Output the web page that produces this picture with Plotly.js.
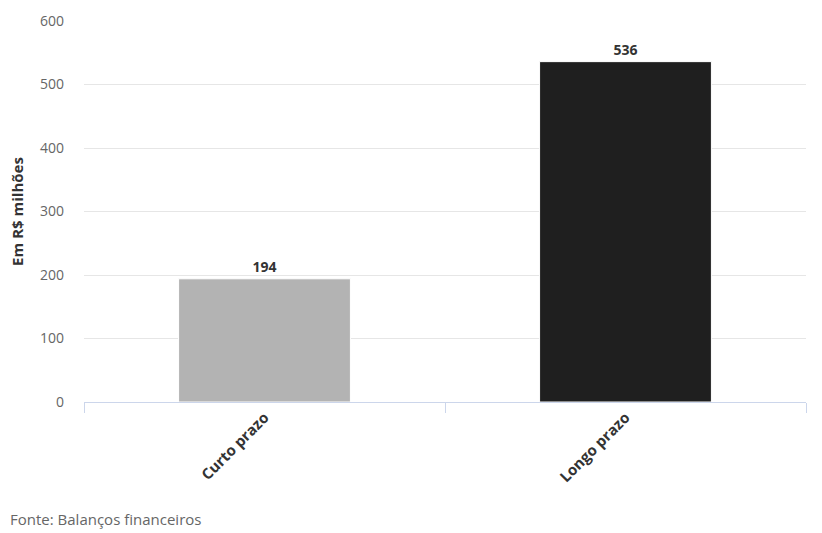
<!DOCTYPE html>
<html><head><meta charset="utf-8">
<script src="https://cdn.plot.ly/plotly-3.0.1.min.js"></script>
<style>body{margin:0;padding:0;background:#fff}#chart{width:822px;height:533px}</style>
</head><body><div id="chart"></div>
<script>
const categories = ["Curto prazo", "Longo prazo"];
const values = [194, 536];
const barColors = ["#b3b3b3", "#1f1f1f"];
const yTicks = [0, 100, 200, 300, 400, 500, 600];

const trace = {
  type: "bar",
  x: categories,
  y: values,
  marker: {color: barColors, line: {color: "#ffffff", width: 1}},
  text: values.map(v => "<b>" + v + "</b>"),
  textposition: "outside",
  textfont: {family: "Open Sans", size: 14, color: "#333333"},
  cliponaxis: false,
  hoverinfo: "none"
};

const layout = {
  width: 822, height: 533,
  margin: {l: 84, r: 16, t: 21, b: 131},
  paper_bgcolor: "#ffffff", plot_bgcolor: "#ffffff",
  font: {family: "Open Sans", color: "#666666"},
  bargap: 0.524,
  showlegend: false,
  xaxis: {
    type: "category",
    tickangle: -45,
    tickfont: {family: "Open Sans", size: 15, color: "#333333", weight: "bold"},
    showline: true, linecolor: "#ccd6eb", linewidth: 1,
    ticks: "outside", tickson: "boundaries", ticklen: 10, tickcolor: "#ccd6eb",
    showgrid: false, zeroline: false, fixedrange: true
  },
  yaxis: {
    range: [0, 600],
    tickvals: yTicks,
    ticktext: yTicks.map(String),
    tickfont: {family: "Open Sans", size: 14, color: "#666666"},
    showgrid: true, gridcolor: "#e6e6e6", gridwidth: 1,
    zeroline: false, showline: false,
    ticklabelstandoff: 19,
    title: {text: "<b>Em R$ milhões</b>", font: {family: "Open Sans", size: 15, color: "#333333"}, standoff: 12},
    fixedrange: true
  },
  annotations: [{
    text: "Fonte: Balanços financeiros",
    xref: "paper", yref: "paper", x: -76/722, y: -117/381,
    xanchor: "left", yanchor: "middle", showarrow: false,
    font: {family: "Open Sans", size: 15, color: "#666666"}
  }]
};

Plotly.newPlot("chart", [trace], layout, {displayModeBar: false, staticPlot: true});
</script></body></html>
